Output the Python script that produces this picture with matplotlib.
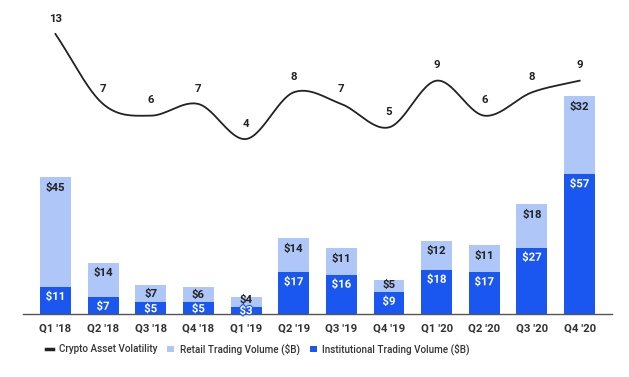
import matplotlib
matplotlib.use('Agg')
import matplotlib.pyplot as plt
import matplotlib.patheffects as pe
from matplotlib.lines import Line2D
from matplotlib.patches import Patch
import numpy as np

plt.rcParams['font.family'] = ['Roboto', 'DejaVu Sans']

quarters      = ["Q1 '18", "Q2 '18", "Q3 '18", "Q4 '18", "Q1 '19", "Q2 '19",
                 "Q3 '19", "Q4 '19", "Q1 '20", "Q2 '20", "Q3 '20", "Q4 '20"]
institutional = [11, 7, 5, 5, 3, 17, 16, 9, 18, 17, 27, 57]
retail        = [45, 14, 7, 6, 4, 14, 11, 5, 12, 11, 18, 32]
volatility    = [13, 7, 6, 7, 4, 8, 7, 5, 9, 6, 8, 9]

LIGHT = '#aec6f8'
DARK  = '#1a56f0'
TXT   = '#222222'
AXC   = '#555555'

fig = plt.figure(figsize=(6.29, 3.77), dpi=100, facecolor='white')
ax = fig.add_axes([0.0366, 0.167, 0.9364, 0.780])
x = np.arange(len(quarters))

b1 = ax.bar(x, institutional, width=0.65, color=DARK, zorder=2)
b2 = ax.bar(x, retail, width=0.65, bottom=institutional, color=LIGHT, zorder=2)

ax.set_xlim(-0.68, 11.68)
ax.set_ylim(0, 120)
ax.set_xticks(x)
ax.set_xticklabels(quarters, fontsize=8.2, fontweight='bold', color='#333333')
ax.tick_params(axis='x', length=0, pad=7)
ax.set_yticks([])
for s in ['top', 'right', 'left']:
    ax.spines[s].set_visible(False)
ax.spines['bottom'].set_color(AXC)
ax.spines['bottom'].set_linewidth(1.0)
ax.spines['bottom'].set_zorder(3)

# labels sit ~10px under the segment top; short segments pull them up a bit
for i in range(len(x)):
    yi = institutional[i] - min(4.0, institutional[i] * 0.6)
    ax.text(x[i], yi, f'${institutional[i]}', ha='center', va='center',
            fontsize=8.2, fontweight='bold', color='white', zorder=4,
            path_effects=[pe.withStroke(linewidth=1.5, foreground=DARK)])
    top_r = institutional[i] + retail[i]
    yr = max(top_r - min(4.4, retail[i] * 0.55), institutional[i] + 2.8)
    ax.text(x[i], yr, f'${retail[i]}', ha='center', va='center',
            fontsize=8.2, fontweight='bold', color=TXT, zorder=4)

# volatility line on its own scale
ax2 = ax.twinx()
ax2.set_ylim(-11, 14.2)
ax2.axis('off')

# smooth curve through the points (Catmull-Rom)
px = x.astype(float)
py = np.array(volatility, dtype=float)
sx, sy = [], []
for i in range(len(px) - 1):
    p0 = py[i - 1] if i > 0 else py[i]
    p3 = py[i + 2] if i + 2 < len(py) else py[i + 1]
    m1 = (py[i + 1] - p0) / (2 if i > 0 else 1)
    m2 = (p3 - py[i]) / (2 if i + 2 < len(py) else 1)
    t = np.linspace(0, 1, 30)
    h00 = 2*t**3 - 3*t**2 + 1
    h10 = t**3 - 2*t**2 + t
    h01 = -2*t**3 + 3*t**2
    h11 = t**3 - t**2
    sx.extend(px[i] + t)
    sy.extend(h00*py[i] + h10*m1 + h01*py[i + 1] + h11*m2)
ax2.plot(sx, sy, color='#222222', linewidth=1.3, zorder=5)

for i, v in enumerate(volatility):
    ax2.annotate(str(v), (x[i], v), xytext=(0, 11), textcoords='offset points',
                 ha='center', va='center', fontsize=8.2, fontweight='bold', color=TXT,
                 arrowprops=dict(arrowstyle='-', color='#e0e0e0', lw=0.6,
                                 shrinkA=5, shrinkB=1))

handles = [Line2D([0], [0], color='#222222', linewidth=2.5),
           Patch(facecolor=LIGHT, edgecolor='none'),
           Patch(facecolor=DARK, edgecolor='none')]
labels = ['Crypto Asset Volatility', 'Retail Trading Volume ($B)',
          'Institutional Trading Volume ($B)']
fig.legend(handles, labels, loc='center', bbox_to_anchor=(0.41, 0.074), ncol=3,
           frameon=False, prop={'weight': 'medium', 'size': 7.1},
           handlelength=0.7, handleheight=0.7,
           handletextpad=0.6, columnspacing=1.0, labelcolor='#333333')

fig.savefig('out.png', dpi=100, facecolor='white')
